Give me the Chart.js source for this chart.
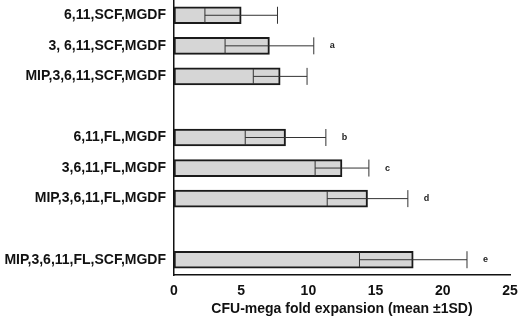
<!DOCTYPE html>
<html>
<head>
    <title>CFU-mega fold expansion</title>
    <script src="https://cdn.jsdelivr.net/npm/chart.js"></script>
    <style>
        body { margin: 0; background: #fff; }
        #wrap { width: 520px; height: 318px; }
    </style>
</head>
<body>
    <div id="wrap"><canvas id="mega-chart"></canvas></div>

    <script>
        // blank labels leave the gaps between the groups
        const labels = ['6,11,SCF,MGDF', '3, 6,11,SCF,MGDF', 'MIP,3,6,11,SCF,MGDF', '',
                        '6,11,FL,MGDF', '3,6,11,FL,MGDF', 'MIP,3,6,11,FL,MGDF', '',
                        'MIP,3,6,11,FL,SCF,MGDF'];
        const means = [5.0, 7.1, 7.9, null, 8.3, 12.5, 14.4, null, 17.8];
        const sds = [2.7, 3.3, 2.0, null, 3.0, 2.0, 3.0, null, 4.0];
        const marks = ['', 'a', '', '', 'b', 'c', 'd', '', 'e'];
        const xTicks = [0, 5, 10, 15, 20, 25];

        const FONT = "'Liberation Sans', Arial, sans-serif";

        // draws mean +/- SD line, both caps, and the significance letters
        const errorBars = {
            id: 'errorBars',
            afterDatasetsDraw(chart) {
                const ctx = chart.ctx;
                const x = chart.scales.x;
                const meta = chart.getDatasetMeta(0);
                ctx.save();
                meta.data.forEach((bar, i) => {
                    if (means[i] == null) return;
                    const lo = x.getPixelForValue(means[i] - sds[i]);
                    const hi = x.getPixelForValue(means[i] + sds[i]);
                    const y = bar.y;
                    const h = bar.height / 2 - 1;
                    ctx.strokeStyle = '#333';
                    ctx.lineWidth = 1;
                    ctx.beginPath();
                    ctx.moveTo(lo, y);
                    ctx.lineTo(hi, y);
                    ctx.moveTo(lo, y - h);
                    ctx.lineTo(lo, y + h);
                    ctx.moveTo(hi, y - h - 1);
                    ctx.lineTo(hi, y + h + 1);
                    ctx.stroke();
                    if (marks[i]) {
                        ctx.fillStyle = '#222';
                        ctx.font = 'bold 9px ' + FONT;
                        ctx.textAlign = 'left';
                        ctx.textBaseline = 'middle';
                        ctx.fillText(marks[i], hi + 16, y);
                    }
                });
                ctx.restore();
            }
        };

        new Chart(document.getElementById('mega-chart'), {
            type: 'bar',
            data: {
                labels: labels,
                datasets: [{
                    data: means,
                    backgroundColor: '#d6d6d6',
                    borderColor: '#1a1a1a',
                    borderWidth: 2,
                    borderSkipped: false,
                    barThickness: 17
                }]
            },
            options: {
                indexAxis: 'y',
                responsive: true,
                maintainAspectRatio: false,
                animation: false,
                layout: { padding: { top: 0, right: 10, left: 0, bottom: 0 } },
                plugins: {
                    legend: { display: false },
                    tooltip: { enabled: false }
                },
                scales: {
                    x: {
                        min: 0,
                        max: 25,
                        afterBuildTicks: (scale) => {
                            scale.ticks = xTicks.map(v => ({ value: v }));
                        },
                        afterFit: (scale) => {
                            scale.height = 43;
                            scale.paddingLeft = 0;
                            scale.paddingRight = 0;
                        },
                        grid: { display: false, drawTicks: false },
                        border: { display: true, color: '#111', width: 1.5 },
                        ticks: {
                            padding: 8,
                            color: '#111',
                            font: { family: FONT, size: 14, weight: 'bold' }
                        },
                        title: {
                            display: true,
                            text: 'CFU-mega fold expansion (mean ±1SD)',
                            color: '#111',
                            padding: { top: 1, bottom: 0 },
                            font: { family: FONT, size: 14, weight: 'bold' }
                        }
                    },
                    y: {
                        afterFit: (scale) => {
                            scale.width = 174;
                            scale.paddingTop = 0;
                            scale.paddingBottom = 0;
                        },
                        grid: { display: false, drawTicks: false },
                        border: { display: true, color: '#111', width: 1.5 },
                        ticks: {
                            padding: 8,
                            color: '#111',
                            font: { family: FONT, size: 14, weight: 'bold' }
                        }
                    }
                }
            },
            plugins: [errorBars]
        });
    </script>
</body>
</html>
